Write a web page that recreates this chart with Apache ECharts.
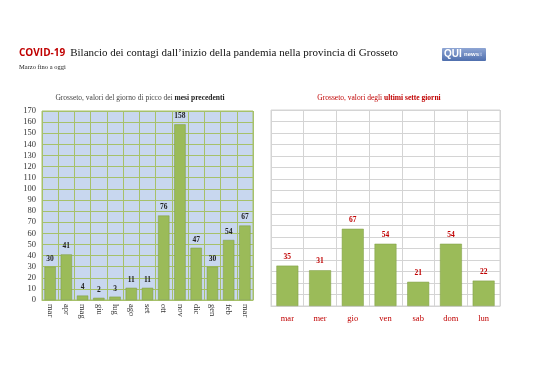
<!DOCTYPE html>
<html><head><meta charset="utf-8">
<script src="https://cdn.jsdelivr.net/npm/echarts@6/dist/echarts.min.js"></script>
<style>html,body{margin:0;padding:0;background:#fff}#c{width:538px;height:380px}</style>
</head><body><div id="c"></div>
<script>
var monthCats = ['mar','apr','mag','giu','lug','ago','set','ott','nov','dic','gen','feb','mar'];
var monthVals = [30,41,4,2,3,11,11,76,158,47,30,54,67];
var dayCats = ['mar','mer','gio','ven','sab','dom','lun'];
var dayVals = [35,31,67,54,21,54,22];

var serif = '"Liberation Serif","DejaVu Serif",serif';
var chart = echarts.init(document.getElementById('c'));
chart.setOption({
  animation:false,
  backgroundColor:'#fff',
  title:[
    {left:14, top:39, text:'{a|COVID-19} {b|Bilancio dei contagi dall\u2019inizio della pandemia nella provincia di Grosseto}',
     textStyle:{fontWeight:'normal', rich:{a:{fontFamily:'"Open Sans","Liberation Sans",sans-serif',fontWeight:'bold',fontSize:10,color:'#c00000'},
                      b:{fontFamily:serif,fontSize:11,fontWeight:'normal',color:'#111'}}}},
    {left:14, top:59, text:'Marzo fino a oggi', textStyle:{fontFamily:serif,fontSize:6.5,fontWeight:'normal',color:'#222'}},
    {left:135, top:89, textAlign:'center', text:'{n|Grosseto, valori del giorno di picco dei }{b|mesi precedenti}',
     textStyle:{fontWeight:'normal', rich:{n:{fontFamily:serif,fontSize:7.5,fontWeight:'normal',color:'#444'},b:{fontFamily:serif,fontSize:7.5,fontWeight:'bold',color:'#222'}}}},
    {left:374, top:89, textAlign:'center', text:'{n|Grosseto, valori degli }{b|ultimi sette giorni}',
     textStyle:{fontWeight:'normal', rich:{n:{fontFamily:serif,fontSize:7.5,fontWeight:'normal',color:'#c00000'},b:{fontFamily:serif,fontSize:7.5,fontWeight:'bold',color:'#c00000'}}}}
  ],
  graphic:[
    {type:'rect', left:442, top:48, shape:{width:44,height:13,r:1},
     style:{fill:new echarts.graphic.LinearGradient(0,0,0,1,[{offset:0,color:'#8fa6d4'},{offset:1,color:'#4f6fae'}])}},
    {type:'text', left:444, top:49, style:{text:'QUI',fill:'#fff',font:'bold 10px "Liberation Sans",sans-serif'}},
    {type:'text', left:464, top:51, style:{text:'news',fill:'#fff',font:'bold 6px "Liberation Sans",sans-serif'}},
    {type:'text', left:478, top:52, style:{text:'.it',fill:'#c6d2ee',font:'5px "Liberation Sans",sans-serif'}}
  ],
  grid:[
    {left:42, top:111, width:211, height:189, show:true, backgroundColor:'#c8d7ef', borderColor:'#a6c16a', borderWidth:1},
    {left:271, top:110, width:229, height:196, show:true, backgroundColor:'#fff', borderColor:'#d4d4d4', borderWidth:1}
  ],
  xAxis:[
    {type:'category', gridIndex:0, data:monthCats,
     axisLine:{lineStyle:{color:'#a6c16a'}}, axisTick:{show:false},
     splitLine:{show:true, interval:0, lineStyle:{color:'#a6c16a'}},
     axisLabel:{interval:0, rotate:-90, fontFamily:serif, fontSize:8.5, color:'#333', margin:4}},
    {type:'category', gridIndex:1, data:dayCats,
     axisLine:{lineStyle:{color:'#d4d4d4'}}, axisTick:{show:false},
     splitLine:{show:true, interval:0, lineStyle:{color:'#d4d4d4'}},
     axisLabel:{interval:0, fontFamily:serif, fontSize:8.5, color:'#c00000', margin:8}}
  ],
  yAxis:[
    {type:'value', gridIndex:0, min:0, max:170, interval:10,
     axisLine:{show:false}, axisTick:{show:false},
     splitLine:{lineStyle:{color:'#a6c16a'}},
     axisLabel:{fontFamily:serif, fontSize:8.5, color:'#333', margin:6}},
    {type:'value', gridIndex:1, min:0, max:170, interval:10,
     axisLine:{show:false}, axisTick:{show:false}, axisLabel:{show:false},
     splitLine:{lineStyle:{color:'#d4d4d4'}}}
  ],
  series:[
    {type:'bar', xAxisIndex:0, yAxisIndex:0, data:monthVals, barCategoryGap:'30%',
     itemStyle:{color:'#9bbb59', borderColor:'#7f9c45', borderWidth:0.5},
     label:{show:true, position:'top', distance:4, fontFamily:serif, fontWeight:'bold', fontSize:7.5, color:'#222'}},
    {type:'bar', xAxisIndex:1, yAxisIndex:1, data:dayVals, barCategoryGap:'33%',
     itemStyle:{color:'#9bbb59', borderColor:'#7f9c45', borderWidth:0.5},
     label:{show:true, position:'top', distance:5, fontFamily:serif, fontWeight:'bold', fontSize:7.5, color:'#c00000'}}
  ]
});
</script></body></html>
